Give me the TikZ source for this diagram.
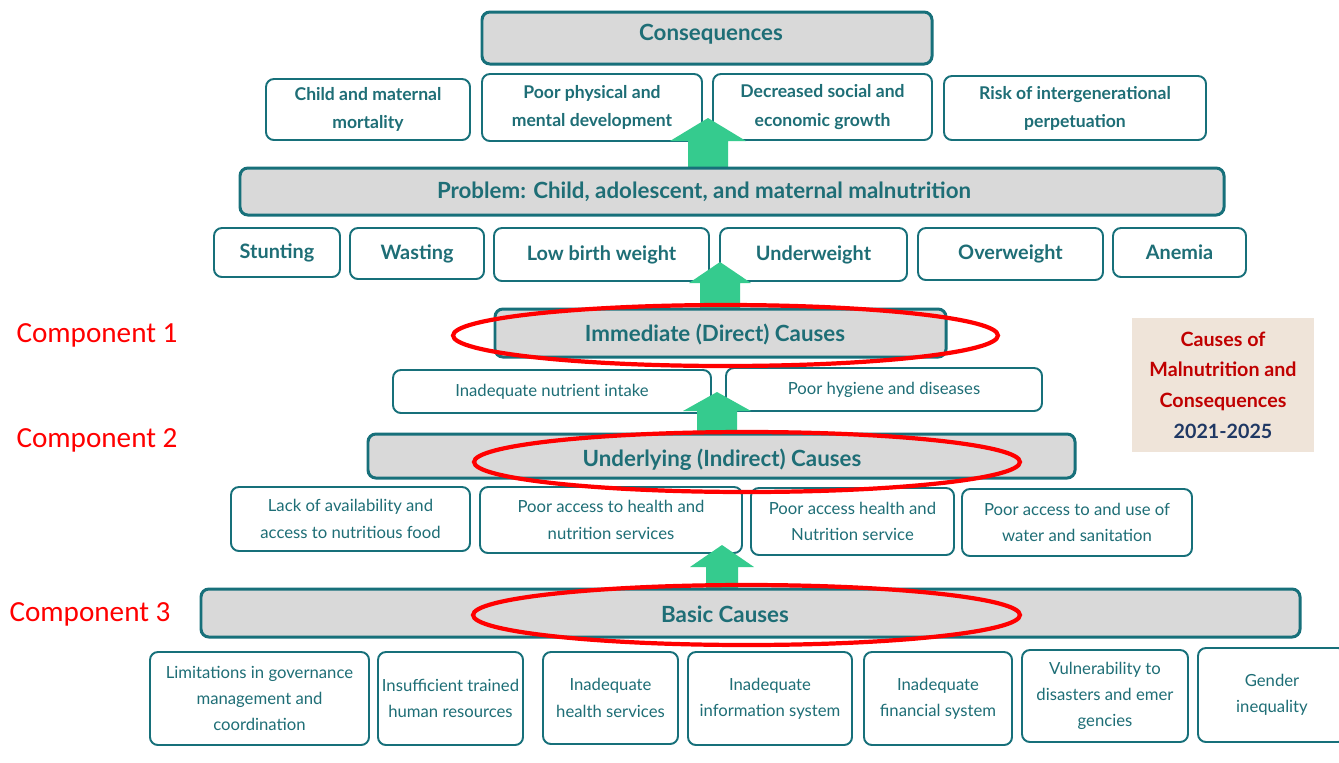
\documentclass[tikz,border=0pt]{standalone}
\usepackage{fontspec}
\setmainfont{Lato}
\newfontfamily\calib{Carlito}
\definecolor{tealline}{HTML}{17707A}
\definecolor{tealtext}{HTML}{1E6E76}
\definecolor{bandgray}{HTML}{D9D9D9}
\definecolor{arrowgreen}{HTML}{35CB8E}
\definecolor{beige}{HTML}{EFE4D9}
\definecolor{titlered}{HTML}{C00000}
\definecolor{navy}{HTML}{1F3864}
\definecolor{ringred}{HTML}{FF0000}

% box given by its pixel corners: style, name, x1, y1, x2, y2, text
\newcommand\pxbox[7]{%
  \node[#1, minimum width={(#5-#3)*0.02cm}, minimum height={(#6-#4)*0.02cm}]
    (#2) at ({(#3+#5)/2},{(#4+#6)/2}) {#7};}
% block arrow pointing up: tip x, tip y, head base y, head half width, shaft half width, bottom y
\newcommand\blockup[6]{%
  \fill[upar] (#1,#2) -- ({#1+#4},#3) -- ({#1+#5},#3) -- ({#1+#5},#6)
    -- ({#1-#5},#6) -- ({#1-#5},#3) -- ({#1-#4},#3) -- cycle;}

\begin{document}
\begin{tikzpicture}[x=0.02cm,y=-0.02cm,
  cell/.style={draw=tealline, line width=1.1pt, rounded corners=4.5pt, fill=white,
    text=tealtext, align=center, inner sep=1pt,
    font=\fontsize{9.5}{15}\selectfont},
  cellb/.style={cell, font=\bfseries\fontsize{10}{16}\selectfont},
  cellc/.style={cell, font=\bfseries\fontsize{11.3}{13}\selectfont},
  band/.style={cell, fill=bandgray, line width=1.7pt},
  bandtext/.style={text=tealtext, inner sep=0pt, font=\bfseries\fontsize{12.7}{14}\selectfont},
  upar/.style={fill=arrowgreen, draw=none},
  ring/.style={draw=ringred, line width=2.4pt},
  complabel/.style={text=ringred, font=\calib\fontsize{16.6}{20}\selectfont, inner sep=0pt},
]
\useasboundingbox[fill=white] (0,0) rectangle (1339,762);

% consequences row
\pxbox{cellb}{cmort}{266}{79}{470}{140}{Child and maternal\\mortality}
\pxbox{cellb}{cdev}{482}{74}{702}{141}{Poor physical and\\mental development}
\pxbox{cellb}{cgrowth}{713}{74}{932}{140}{Decreased social and\\economic growth}
\pxbox{cellb}{cperp}{944}{76}{1206}{140}{Risk of intergenerational\\perpetuation}

% forms of malnutrition
\pxbox{cellc}{stunt}{214}{228}{340}{277}{Stunting}
\pxbox{cellc}{waste}{350}{228}{484}{279}{Wasting}
\pxbox{cellc}{lbw}{494}{228}{709}{281}{Low birth weight}
\pxbox{cellc}{under}{720}{228}{907}{281}{Underweight}
\pxbox{cellc}{over}{918}{228}{1103}{280}{Overweight}
\pxbox{cellc}{anem}{1113}{228}{1246}{277}{Anemia}

% immediate causes
\pxbox{cell}{intake}{393}{370}{711}{413}{Inadequate nutrient intake}
\pxbox{cell}{hyg}{726}{368}{1042}{411}{Poor hygiene and diseases}

% underlying causes
\pxbox{cell}{food}{231}{487}{470}{551}{Lack of availability and\\access to nutritious food}
\pxbox{cell}{hns}{480}{487}{742}{553}{Poor access to health and\\nutrition services}
\pxbox{cell}{hns2}{751}{488}{954}{555}{Poor access health and\\Nutrition service}
\pxbox{cell}{wash}{962}{489}{1192}{556}{Poor access to and use of\\water and sanitation}

% basic causes
\pxbox{cell}{gov}{150}{652}{369}{745}{Limitations in governance\\management and\\coordination}
\pxbox{cell}{hr}{378}{652}{523}{745}{Insufficient trained\\human resources}
\pxbox{cell}{hsvc}{543}{652}{678}{744}{Inadequate\\health services}
\pxbox{cell}{info}{688}{652}{852}{745}{Inadequate\\information system}
\pxbox{cell}{fin}{864}{652}{1012}{745}{Inadequate\\financial system}
\pxbox{cell}{vuln}{1022}{650}{1188}{742}{Vulnerability to\\disasters and emer\\gencies}
\pxbox{cell}{gend}{1198}{648}{1346}{742}{Gender\\inequality}

% upward block arrows between the levels
\blockup{708}{118}{141}{38}{20}{170}
\blockup{720}{262}{283}{31}{20}{310}
\blockup{717}{392}{411}{34}{20}{436}
\blockup{722}{545}{567}{32}{16}{590}

% level bands and their titles
\pxbox{band}{cons}{482}{12}{932}{64}{}
\pxbox{band}{prob}{240}{168}{1224}{215}{}
\pxbox{band}{imm}{495}{309}{946}{357}{}
\pxbox{band}{undl}{368}{434}{1075}{478}{}
\pxbox{band}{basic}{201}{589}{1300}{637}{}
\node[bandtext] (constext) at (711,34) {Consequences};
\node[bandtext] (probtext) at (704,192) {Problem: Child, adolescent, and maternal malnutrition};
\node[bandtext] (immtext) at (715,334) {Immediate (Direct) Causes};
\node[bandtext] (undltext) at (722,460) {Underlying (Indirect) Causes};
\node[bandtext] (basictext) at (725,614) {Basic Causes};

% highlighted components
\draw[ring] (725.5,335.5) ellipse [x radius=5.45cm, y radius=0.61cm];
\draw[ring] (747,462) ellipse [x radius=5.46cm, y radius=0.6cm];
\draw[ring] (746.5,615) ellipse [x radius=5.47cm, y radius=0.6cm];

\node[complabel] (comp1) at (97,335) {Component 1};
\node[complabel] (comp2) at (97,440) {Component 2};
\node[complabel] (comp3) at (90,614) {Component 3};

% title card
\pxbox{draw=none, fill=beige, align=center, inner sep=0pt,
  font=\bfseries\fontsize{11.2}{17.5}\selectfont}{title}{1132}{318}{1314}{452}%
  {\textcolor{titlered}{Causes of}\\\textcolor{titlered}{Malnutrition and}\\%
   \textcolor{titlered}{Consequences}\\\textcolor{navy}{2021-2025}}
\end{tikzpicture}
\end{document}
